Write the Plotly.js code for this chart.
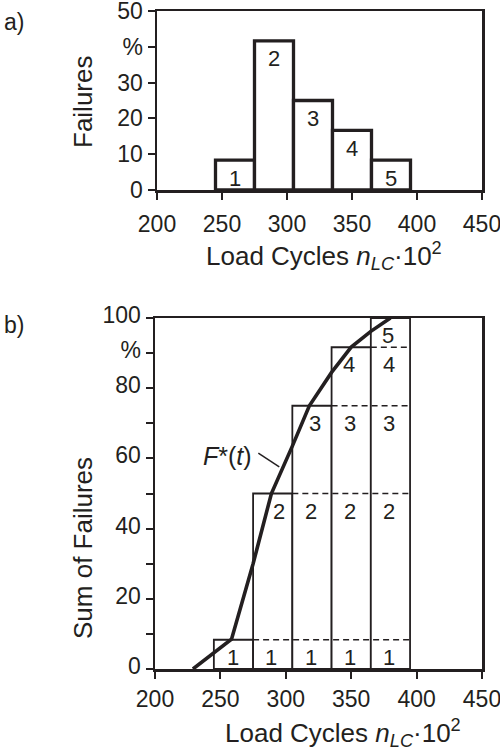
<!DOCTYPE html>
<html>
<head>
<meta charset="utf-8">
<script src="https://cdn.plot.ly/plotly-3.0.1.min.js"></script>
<style>
  html, body { margin: 0; padding: 0; background: #ffffff; }
  #chart { width: 500px; height: 751px; }
</style>
</head>
<body>
<div id="chart"></div>
<script>
// Failure classes (load-cycle bins, x 10^2)
const classLabels = ['1', '2', '3', '4', '5'];
const binCenters = [260, 290, 320, 350, 380];
const binWidth = 30;
// Share of failures per class, %
const failurePct = [8.33, 41.67, 25, 16.67, 8.33];
// Sum of failures up to and including each class, %
const cumulativePct = [8.33, 50, 75, 91.67, 100];
// Estimated distribution function F*(t) drawn through the staircase
const curveX = [229, 258.5, 275, 289, 305, 318, 335, 350, 365, 380];
const curveY = [0, 8.5, 30, 50, 63.5, 75, 84.5, 91.7, 96.2, 100];
// Axis ticks
const xTicks = [200, 250, 300, 350, 400, 450];
const yTicksTop = [0, 10, 20, 30, 40, 50];
const yTickTextTop = ['0', '10', '20', '30', '%', '50'];
const yTicksBottom = [0, 20, 40, 60, 80, 90, 100];
const yTickTextBottom = ['0', '20', '40', '60', '80', '%', '100'];
const yMinorTicksBottom = [10, 30, 50, 70];

const INK = '#231f20';
const FONT = 'Liberation Sans, Arial, Helvetica, sans-serif';
const W = 500, H = 751;
const px = v => v / W;          // horizontal pixel -> paper
const py = v => 1 - v / H;      // vertical pixel -> paper

const traces = [];

// a) histogram of failures
traces.push({
  type: 'bar', x: binCenters, y: failurePct, width: binWidth,
  xaxis: 'x', yaxis: 'y',
  marker: { color: '#ffffff', line: { color: INK, width: 3.3 } },
  hoverinfo: 'x+y', showlegend: false
});

// b) cumulative staircase: one solid column per class
traces.push({
  type: 'bar', x: binCenters, y: cumulativePct, width: binWidth,
  xaxis: 'x2', yaxis: 'y2',
  marker: { color: '#ffffff', line: { color: INK, width: 1.8 } },
  hoverinfo: 'x+y', showlegend: false
});

// dashed continuation of each level across the later columns
const lastEdge = binCenters[binCenters.length - 1] + binWidth / 2;
for (let j = 0; j < cumulativePct.length - 1; j++) {
  const startEdge = binCenters[j + 1] - binWidth / 2;
  traces.push({
    type: 'scatter', mode: 'lines',
    x: [startEdge, lastEdge], y: [cumulativePct[j], cumulativePct[j]],
    xaxis: 'x2', yaxis: 'y2',
    line: { color: INK, width: 1.5, dash: '6px,4px' },
    hoverinfo: 'skip', showlegend: false
  });
}

// F*(t)
traces.push({
  type: 'scatter', mode: 'lines', x: curveX, y: curveY,
  xaxis: 'x2', yaxis: 'y2',
  line: { color: INK, width: 3.6 },
  cliponaxis: true, showlegend: false
});

const annotations = [];

// class numbers inside the histogram bars
binCenters.forEach((c, i) => {
  annotations.push({
    xref: 'x', yref: 'y', x: c, y: failurePct[i], yshift: -18,
    text: classLabels[i], showarrow: false,
    font: { family: FONT, size: 22, color: INK }, yanchor: 'middle'
  });
});

// class numbers in every cell of the staircase
const diagonalShift = [0, 5, 2.5, -2, -1.5];
binCenters.forEach((c, i) => {
  for (let j = 0; j <= i; j++) {
    annotations.push({
      xref: 'x2', yref: 'y2',
      x: c + (i === j ? diagonalShift[i] : -1), y: cumulativePct[j], yshift: -17.5,
      text: classLabels[j], showarrow: false,
      font: { family: FONT, size: 22, color: INK }, yanchor: 'middle'
    });
  }
});

// curve label
annotations.push({
  xref: 'x2', yref: 'y2', x: 276, y: 60.7, xanchor: 'right', yanchor: 'middle',
  text: '<i>F</i>*(<i>t</i>)', showarrow: false,
  font: { family: FONT, size: 25, color: INK }
});

// panel letters
annotations.push({ xref: 'paper', yref: 'paper', x: px(2), y: py(22), xanchor: 'left', yanchor: 'middle',
  text: 'a)', showarrow: false, font: { family: FONT, size: 23, color: INK } });
annotations.push({ xref: 'paper', yref: 'paper', x: px(2), y: py(325), xanchor: 'left', yanchor: 'middle',
  text: 'b)', showarrow: false, font: { family: FONT, size: 23, color: INK } });

// axis titles
const xTitle = 'Load Cycles <i>n</i><sub><i>LC</i></sub>·10<sup>2</sup>';
annotations.push({ xref: 'paper', yref: 'paper', x: px(324), y: py(256), xanchor: 'center', yanchor: 'middle',
  text: xTitle, showarrow: false, font: { family: FONT, size: 26, color: INK } });
annotations.push({ xref: 'paper', yref: 'paper', x: px(343), y: py(733), xanchor: 'center', yanchor: 'middle',
  text: xTitle, showarrow: false, font: { family: FONT, size: 26, color: INK } });
annotations.push({ xref: 'paper', yref: 'paper', x: px(83), y: py(102), xanchor: 'center', yanchor: 'middle',
  textangle: -90, text: 'Failures', showarrow: false, font: { family: FONT, size: 26, color: INK } });
annotations.push({ xref: 'paper', yref: 'paper', x: px(83), y: py(548), xanchor: 'center', yanchor: 'middle',
  textangle: -90, text: 'Sum of Failures', showarrow: false, font: { family: FONT, size: 26, color: INK } });

// leader from the label to the curve
const shapes = [{
  type: 'line', xref: 'x2', yref: 'y2', x0: 279, y0: 61.5, x1: 295, y1: 57.6,
  line: { color: INK, width: 1.5 }
}];

const axisCommon = {
  showgrid: false, zeroline: false, showline: true, mirror: true,
  linecolor: INK, linewidth: 2.5,
  ticks: 'outside', ticklen: 7, tickwidth: 2, tickcolor: INK,
  tickfont: { family: FONT, size: 23, color: INK },
  ticklabeloverflow: 'allow',
  fixedrange: true
};

const layout = {
  width: W, height: H,
  margin: { l: 0, r: 0, t: 0, b: 0 },
  paper_bgcolor: '#ffffff', plot_bgcolor: '#ffffff',
  showlegend: false, barmode: 'overlay',
  xaxis: Object.assign({}, axisCommon, {
    domain: [px(157), px(482)], range: [200, 450], anchor: 'y',
    tickvals: xTicks, ticktext: xTicks.map(String), ticklabelstandoff: 5
  }),
  yaxis: Object.assign({}, axisCommon, {
    domain: [py(190), py(11)], range: [0, 50], anchor: 'x',
    tickvals: yTicksTop, ticktext: yTickTextTop, ticklabelshift: -4.5
  }),
  xaxis2: Object.assign({}, axisCommon, {
    domain: [px(155), px(482)], range: [200, 450], anchor: 'y2',
    tickvals: xTicks, ticktext: xTicks.map(String), ticklabelstandoff: 1
  }),
  yaxis2: Object.assign({}, axisCommon, {
    domain: [py(669), py(318)], range: [0, 100], anchor: 'x2',
    tickvals: yTicksBottom, ticktext: yTickTextBottom, ticklabelshift: -3,
    minor: { tickvals: yMinorTicksBottom, ticks: 'outside', ticklen: 7, tickwidth: 2, tickcolor: INK, showgrid: false }
  }),
  annotations: annotations,
  shapes: shapes
};

Plotly.newPlot('chart', traces, layout, { displayModeBar: false, staticPlot: true });
</script>
</body>
</html>
